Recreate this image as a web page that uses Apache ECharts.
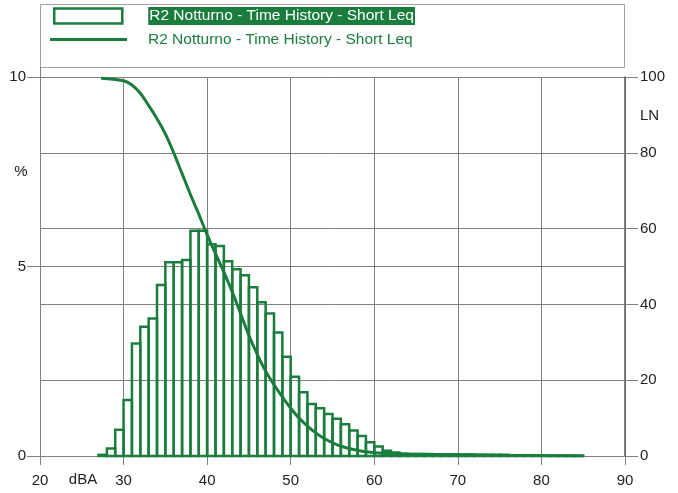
<!DOCTYPE html>
<html>
<head>
<meta charset="utf-8">
<script src="https://cdn.jsdelivr.net/npm/echarts@6/dist/echarts.min.js"></script>
<style>
html,body{margin:0;padding:0;background:#fff;}
#chart{width:678px;height:493px;}
</style>
</head>
<body>
<div id="chart"></div>
<script>
// ---- Data ----
const seriesLabel = 'R2 Notturno - Time History - Short Leq';
const xTicks = [20, 30, 40, 50, 60, 70, 80, 90];
const leftTicks = [0, 5, 10];
const rightTicks = [0, 20, 40, 60, 80, 100];
// histogram: lower edge of each 1 dB class and its share of time (%)
const binLow = [27,28,29,30,31,32,33,34,35,36,37,38,39,40,41,42,43,44,45,46,47,48,49,50,51,52,53,54,55,56,57,58,59,60,61,62,63,64,65,66,67,68,69,70,71,72,73,74,75,76,77,78,79,80,81,82,83,84];
const binPct = [0.03,0.2,0.69,1.48,2.97,3.41,3.63,4.51,5.11,5.11,5.17,5.94,5.94,5.59,5.54,5.14,4.93,4.77,4.45,4.06,3.76,3.26,2.62,2.09,1.68,1.37,1.26,1.11,0.98,0.84,0.67,0.53,0.36,0.25,0.14,0.09,0.06,0.05,0.05,0.05,0.04,0.04,0.04,0.04,0.04,0.03,0.03,0.03,0.03,0.02,0.02,0.02,0.02,0.01,0.01,0.01,0.01,0.01];
// cumulative LN curve (right axis)
const lnDb  = [27.3,30,31,32,33,34,35,36,37,38,39,40,41,42,43,44,45,46,47,48,49,50,51,52,53,54,55,56,57,58,59,60,62,65,70,75,80,85];
const lnVal = [99.7,99.0,97.9,95.7,92.5,89.0,85.0,80.0,74.5,69.0,63.8,58.4,53.4,48.5,43.3,37.6,31.8,26.8,22.4,18.8,15.6,12.6,10.0,7.9,6.1,4.6,3.5,2.6,2.0,1.5,1.1,0.85,0.6,0.45,0.3,0.2,0.1,0];

// ---- Styling ----
const GREEN = '#1b7d3d';
const GRID = '#808080';
const TXT = '#222';
const FONT = 'Liberation Sans, Arial, sans-serif';

const histData = binLow.map((lo, i) => [lo, lo + 1, binPct[i]]);
const lnData = lnDb.map((d, i) => [d, lnVal[i]]);

const chart = echarts.init(document.getElementById('chart'), null, {renderer: 'canvas'});

const option = {
  animation: false,
  backgroundColor: '#fff',
  grid: {left: 40, right: 53, top: 77, bottom: 37, containLabel: false},
  graphic: [
    {type: 'rect', shape: {x: 40.5, y: 4.5, width: 584, height: 63}, style: {fill: 'none', stroke: '#a0a0a0', lineWidth: 1}, z: -1},
    {type: 'line', shape: {x1: 40.5, y1: 67, x2: 40.5, y2: 77}, style: {stroke: GRID, lineWidth: 1}},
    {type: 'text', x: 21, y: 172, style: {text: '%', font: '15px ' + FONT, fill: TXT, align: 'center', verticalAlign: 'middle'}},
    {type: 'text', x: 640, y: 116, style: {text: 'LN', font: '15px ' + FONT, fill: TXT, align: 'left', verticalAlign: 'middle'}},
    {type: 'text', x: 83, y: 480, style: {text: 'dBA', font: '15px ' + FONT, fill: TXT, align: 'center', verticalAlign: 'middle'}}
  ],
  legend: [
    {
      left: 53, top: 7, padding: 0, itemWidth: 68, itemHeight: 15, icon: 'rect', selectedMode: false,
      data: [{name: 'hist', itemStyle: {color: 'transparent', borderColor: GREEN, borderWidth: 2.5}}],
      formatter: () => '{p|}{h|' + seriesLabel + '}',
      textStyle: {fontFamily: FONT, rich: {p: {width: 21}, h: {backgroundColor: GREEN, color: '#fff', fontSize: 15.5, fontFamily: FONT, padding: [1, 1, 1, 1]}}}
    },
    {
      left: 50, top: 31.5, padding: 0, itemWidth: 77, itemHeight: 3, icon: 'rect', selectedMode: false,
      data: [{name: 'ln', itemStyle: {color: GREEN}}],
      formatter: () => '{p|}{t|' + seriesLabel + '}',
      textStyle: {fontFamily: FONT, rich: {p: {width: 16}, t: {color: GREEN, fontSize: 15.5, fontFamily: FONT}}}
    }
  ],
  xAxis: {
    type: 'value', min: xTicks[0], max: xTicks[xTicks.length - 1], interval: 10,
    axisLine: {show: true, lineStyle: {color: GRID, width: 1}},
    axisTick: {show: true, length: 9, lineStyle: {color: GRID}},
    axisLabel: {margin: 17, fontSize: 15, color: TXT, fontFamily: FONT, showMinLabel: true, showMaxLabel: true},
    splitLine: {show: true, lineStyle: {color: GRID, width: 1}}
  },
  yAxis: [
    {
      type: 'value', position: 'left', min: leftTicks[0], max: leftTicks[leftTicks.length - 1], interval: 5,
      axisLine: {show: true, lineStyle: {color: GRID}},
      axisTick: {show: true, length: 13, lineStyle: {color: GRID}},
      axisLabel: {margin: 14, fontSize: 15, color: TXT, fontFamily: FONT},
      splitLine: {show: true, lineStyle: {color: GRID}}
    },
    {
      type: 'value', position: 'right', min: rightTicks[0], max: rightTicks[rightTicks.length - 1], interval: 20,
      axisLine: {show: true, lineStyle: {color: '#5a5a5a', width: 1.5}},
      axisTick: {show: true, length: 13, lineStyle: {color: GRID}},
      axisLabel: {margin: 15, fontSize: 15, color: TXT, fontFamily: FONT},
      splitLine: {show: true, lineStyle: {color: GRID}}
    }
  ],
  series: [
    {
      name: 'hist', type: 'custom', xAxisIndex: 0, yAxisIndex: 0,
      itemStyle: {color: 'transparent', borderColor: GREEN, borderWidth: 2.5},
      encode: {x: [0, 1], y: 2},
      data: histData,
      renderItem: function (params, api) {
        const lo = api.value(0), hi = api.value(1), v = api.value(2);
        const p0 = api.coord([lo, v]);
        const p1 = api.coord([hi, 0]);
        return {
          type: 'rect',
          shape: {x: p0[0], y: p0[1], width: p1[0] - p0[0], height: p1[1] - p0[1]},
          style: {fill: 'none', stroke: GREEN, lineWidth: 2.5}
        };
      },
      z: 3
    },
    {
      name: 'ln', type: 'line', xAxisIndex: 0, yAxisIndex: 1,
      data: lnData, smooth: 0.4, showSymbol: false, symbol: 'none',
      itemStyle: {color: GREEN},
      lineStyle: {color: GREEN, width: 3},
      z: 4
    }
  ]
};
chart.setOption(option);
</script>
</body>
</html>
